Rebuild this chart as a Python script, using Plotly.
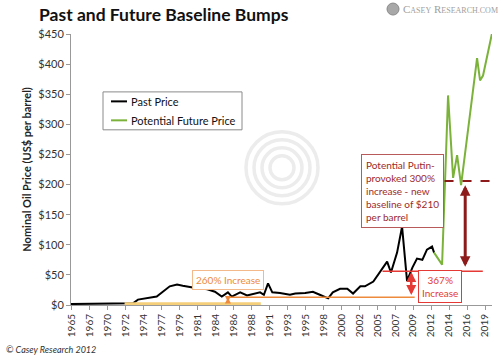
import plotly.graph_objects as go

# ---------------- data ----------------
past_years = [1964.9, 1969.6, 1971.7, 1973.0, 1973.65, 1974.8, 1976.1, 1977.8, 1978.75, 1979.5,
              1980.8, 1982.7, 1983.7, 1984.6, 1985.4, 1985.9, 1987.0, 1987.9, 1989.6, 1990.1,
              1990.64, 1991.2, 1992.2, 1993.5, 1994.2, 1995.5, 1996.5, 1997.4, 1998.5, 1999.1,
              2000.05, 2001.0, 2001.75, 2002.7, 2003.3, 2004.4, 2005.3, 2006.2, 2006.7, 2007.5,
              2008.15, 2008.4, 2008.8, 2009.5, 2010.1, 2010.8, 2011.4, 2012.07, 2012.33]
past_price = [1.6, 1.8, 2.5, 2.8, 9, 11, 14, 31, 34, 32,
              29, 26, 22, 14, 21, 14, 21, 16, 21, 17,
              36, 21, 20, 17, 19, 20, 22, 17, 11, 21,
              27, 27, 19, 31, 31, 39, 55, 72, 54, 87,
              130, 92, 40, 62, 77, 75, 92, 97, 87]

future_years = [2012.33, 2013.38, 2014.16, 2014.82, 2015.34, 2015.86, 2017.95, 2018.34, 2018.73, 2019.9]
future_price = [87, 67, 348, 211, 249, 199, 410, 373, 381, 451]

tick_labels = ["1965", "1967", "1970", "1972", "1974", "1977", "1979", "1981", "1984", "1986",
               "1988", "1991", "1993", "1995", "1998", "2000", "2002", "2005", "2007", "2009",
               "2012", "2014", "2016", "2019"]
tick_vals = [1965 + i * 54 / 23 for i in range(len(tick_labels))]

y_ticks = [0, 50, 100, 150, 200, 250, 300, 350, 400, 450]
y_tick_text = ["$" + str(v) for v in y_ticks]

series_names = ["Past Price", "Potential Future Price"]

# baselines / annotation levels (values)
old_base = 2.0          # early baseline (1972-1990)
mid_base = 13.0         # baseline after 260% increase
new_base = 56.0         # baseline after 367% increase
putin_base = 206.0      # potential new baseline

BLACK = "#000000"
GREEN = "#7BB33A"
ORANGE = "#EE8A3C"
LIGHT_ORANGE = "#F4B98A"
YELLOW = "#F6CF7A"
RED = "#E53935"
DARK_RED = "#8E1B1B"
FONT = "Lato"

# plot-area geometry in pixels (for paper-coordinate helpers)
L, R, T, B = 71, 492, 34, 305.5
PW, PH = R - L, B - T


def px(xp):
    return (xp - L) / PW


def py(yp):
    return (B - yp) / PH


fig = go.Figure()
fig.add_trace(go.Scatter(x=past_years, y=past_price, mode="lines", name=series_names[0],
                         line=dict(color=BLACK, width=2), showlegend=False))
fig.add_trace(go.Scatter(x=future_years, y=future_price, mode="lines", name=series_names[1],
                         line=dict(color=GREEN, width=2), showlegend=False))

shapes = []
# watermark circles
cx, cy = px(282), py(168)
for r in [36, 28, 20, 12]:
    shapes.append(dict(type="circle", xref="paper", yref="paper", layer="below",
                       x0=cx - r / PW, x1=cx + r / PW, y0=cy - r / PH, y1=cy + r / PH,
                       line=dict(color="#ECECEC", width=3.5)))
# baselines
shapes.append(dict(type="line", xref="x", yref="y", x0=1971.9, x1=1989.7, y0=old_base, y1=old_base,
                   line=dict(color=YELLOW, width=3)))
shapes.append(dict(type="line", xref="x", yref="y", x0=1985.4, x1=2009.8, y0=mid_base, y1=mid_base,
                   line=dict(color=ORANGE, width=1.5)))
shapes.append(dict(type="line", xref="x", yref="y", x0=2005.6, x1=2018.7, y0=new_base, y1=new_base,
                   line=dict(color=RED, width=1.5)))
shapes.append(dict(type="line", xref="x", yref="y", x0=2013.7, x1=2020.0, y0=putin_base, y1=putin_base,
                   line=dict(color=DARK_RED, width=2, dash="dash")))
# logo icon
shapes.append(dict(type="circle", xref="paper", yref="paper",
                   x0=px(387), x1=px(399), y0=py(15), y1=py(3),
                   fillcolor="#A8A8A8", line=dict(color="#8A8A8A", width=1)))
# legend box + samples
shapes.append(dict(type="rect", xref="paper", yref="paper", x0=px(103), x1=px(242), y0=py(130), y1=py(92),
                   fillcolor="white", line=dict(color="#8A8A8A", width=1)))
shapes.append(dict(type="line", xref="paper", yref="paper", x0=px(111), x1=px(127), y0=py(101.5), y1=py(101.5),
                   line=dict(color=BLACK, width=2)))
shapes.append(dict(type="line", xref="paper", yref="paper", x0=px(111), x1=px(127), y0=py(120.5), y1=py(120.5),
                   line=dict(color=GREEN, width=2)))

annotations = []


def arrow(x, y0, y1, color, width, size):
    annotations.append(dict(x=x, y=y1, ax=x, ay=y0, xref="x", yref="y", axref="x", ayref="y",
                            text="", showarrow=True, arrowhead=2, arrowside="end+start",
                            arrowsize=size, arrowwidth=width, arrowcolor=color))


arrow(1985.4, old_base + 0.5, mid_base - 0.5, ORANGE, 1.5, 0.8)
arrow(2009.35, mid_base + 1, new_base - 1, RED, 2.5, 0.8)
arrow(2016.4, new_base + 5, putin_base - 7, DARK_RED, 3, 0.7)

# text boxes
annotations.append(dict(x=1985.4, y=41, xref="x", yref="y", xanchor="center", yanchor="middle",
                        text="260% Increase", showarrow=False,
                        font=dict(family=FONT, size=10, color=ORANGE), bgcolor="white",
                        bordercolor=LIGHT_ORANGE, borderwidth=1, borderpad=3))
annotations.append(dict(x=2013.1, y=30, xref="x", yref="y", xanchor="center", yanchor="middle",
                        text="367%<br>Increase", showarrow=False,
                        font=dict(family=FONT, size=10, color=RED), bgcolor="white",
                        bordercolor=RED, borderwidth=1, borderpad=3))
annotations.append(dict(x=2008.2, y=190, xref="x", yref="y", xanchor="center", yanchor="middle",
                        text="Potential Putin-<br>provoked 300%<br>increase - new<br>baseline of $210<br>per barrel",
                        showarrow=False, align="left",
                        font=dict(family=FONT, size=10, color="#9E2A2B"), bgcolor="white",
                        bordercolor="#B85A5A", borderwidth=1, borderpad=4))
# legend texts
annotations.append(dict(x=px(129), y=py(101.5), xref="paper", yref="paper", xanchor="left", yanchor="middle",
                        text=series_names[0], showarrow=False, font=dict(family=FONT, size=11, color="#111")))
annotations.append(dict(x=px(129), y=py(120.5), xref="paper", yref="paper", xanchor="left", yanchor="middle",
                        text=series_names[1], showarrow=False, font=dict(family=FONT, size=11, color="#111")))
# y axis title
annotations.append(dict(x=px(27), y=py(170), xref="paper", yref="paper", xanchor="center", yanchor="middle",
                        text="<b>Nominal Oil Price (US$ per barrel)</b>", textangle=-90, showarrow=False,
                        font=dict(family=FONT, size=11, color="#222")))
# footer
annotations.append(dict(x=px(4), y=py(350), xref="paper", yref="paper", xanchor="left", yanchor="middle",
                        text="<i>© Casey Research 2012</i>", showarrow=False,
                        font=dict(family=FONT, size=9, color="#333")))
# logo text
annotations.append(dict(x=px(401), y=py(9), xref="paper", yref="paper", xanchor="left", yanchor="middle",
                        text="C<span style='font-size:8px'>ASEY</span> R<span style='font-size:8px'>ESEARCH.COM</span>",
                        showarrow=False, font=dict(family="Liberation Serif", size=11, color="#A0A0A0")))

fig.update_layout(
    width=500, height=360,
    margin=dict(l=L, r=500 - R, t=T, b=360 - B, autoexpand=False),
    paper_bgcolor="white", plot_bgcolor="white",
    title=dict(text="<b>Past and Future Baseline Bumps</b>", xref="container", yref="container",
               x=39 / 500, xanchor="left", y=1 - 15 / 360, yanchor="middle",
               font=dict(family=FONT, size=17.5, color="#111")),
    font=dict(family=FONT, size=10, color="#333"),
    showlegend=False,
    shapes=shapes,
    annotations=annotations,
)
fig.update_xaxes(range=[1964.9, 2019.9], tickmode="array", tickvals=tick_vals, ticktext=tick_labels,
                 tickangle=-90, ticks="outside", ticklen=4, tickcolor="#999", showline=True,
                 linecolor="#999", linewidth=1, showgrid=False, zeroline=False, automargin=False,
                 tickfont=dict(family=FONT, size=10, color="#333"))
fig.update_yaxes(range=[0, 450], tickmode="array", tickvals=y_ticks, ticktext=y_tick_text,
                 ticks="outside", ticklen=4, tickcolor="#999", showline=True, linecolor="#999",
                 linewidth=1, showgrid=False, zeroline=False, automargin=False,
                 tickfont=dict(family=FONT, size=11, color="#333"))

fig.write_html("out.html", config={"displayModeBar": False},
               post_script="document.body.style.margin='0';")
